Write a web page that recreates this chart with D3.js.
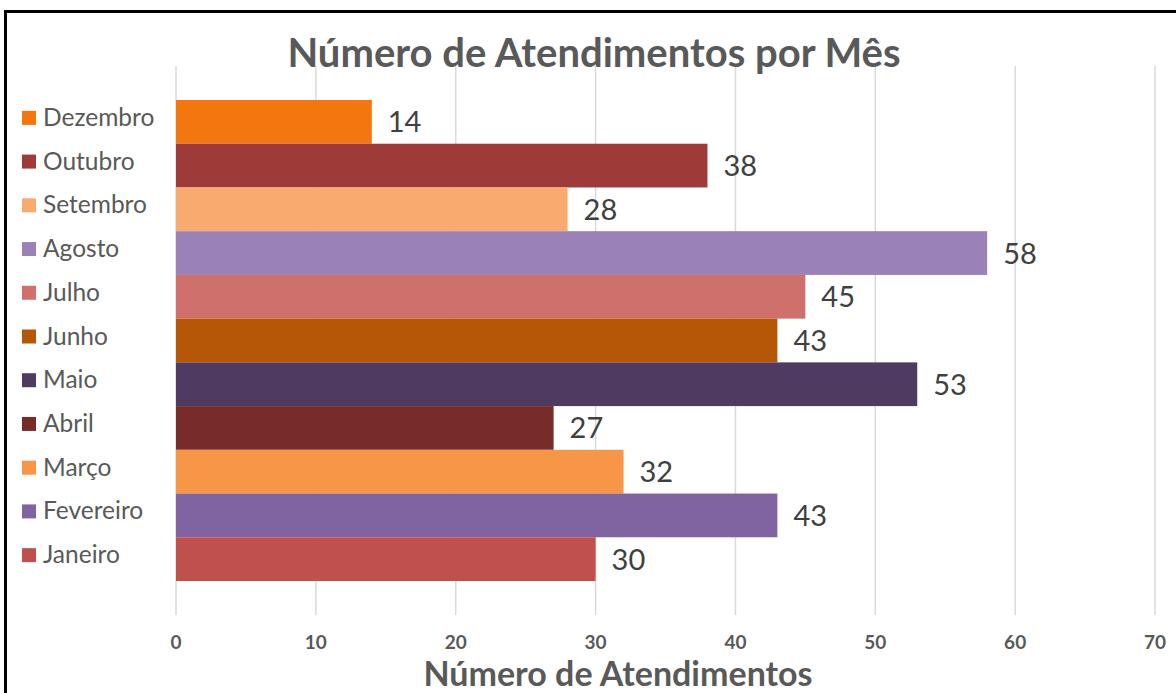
<!DOCTYPE html>
<html>
<head>
<meta charset="utf-8">
<script src="https://cdnjs.cloudflare.com/ajax/libs/d3/7.8.5/d3.min.js"></script>
<style>
  body { margin: 0; background: #fff; }
  svg { display: block; }
  text { font-family: Lato, "Open Sans", sans-serif; }
</style>
</head>
<body>
<div class="container"></div>
<script>
  var width = 1176,
    height = 693;

  // meses de cima para baixo, como no gráfico
  var months = ["Dezembro", "Outubro", "Setembro", "Agosto", "Julho", "Junho",
    "Maio", "Abril", "Março", "Fevereiro", "Janeiro"];
  var values = [14, 38, 28, 58, 45, 43, 53, 27, 32, 43, 30];
  var colors = ["#F4760E", "#9E3A38", "#F9AB6F", "#9A82B7", "#CF706D", "#B65708",
    "#4F3B62", "#772C2A", "#F79646", "#8064A2", "#C0504D"];
  var ticks = [0, 10, 20, 30, 40, 50, 60, 70];

  var data = months.map(function(m, i) {
    return { month: m, value: values[i], color: colors[i] };
  });

  var x = d3.scaleLinear()
    .domain([0, 70])
    .range([176, 1155]);

  var y = d3.scaleBand()
    .domain(months)
    .range([100, 581])
    .padding(0);

  var svg = d3.select(".container").append("svg")
    .attr("width", width)
    .attr("height", height);

  // moldura
  svg.append("rect")
    .attr("x", 5.5)
    .attr("y", 11.5)
    .attr("width", 1200)
    .attr("height", 720)
    .attr("fill", "none")
    .attr("stroke", "#000")
    .attr("stroke-width", 3);

  // linhas de grade
  svg.append("g")
    .selectAll("line")
    .data(ticks)
    .enter().append("line")
    .attr("x1", function(d) { return x(d); })
    .attr("x2", function(d) { return x(d); })
    .attr("y1", 66)
    .attr("y2", 615)
    .attr("stroke", "#d9d9d9")
    .attr("stroke-width", 1.5);

  // rótulos do eixo
  svg.append("g")
    .selectAll("text")
    .data(ticks)
    .enter().append("text")
    .attr("x", function(d) { return x(d); })
    .attr("y", 649)
    .attr("text-anchor", "middle")
    .attr("font-size", 19)
    .attr("font-weight", "bold")
    .attr("fill", "#595959")
    .text(function(d) { return d; });

  // barras
  svg.append("g")
    .selectAll("rect")
    .data(data)
    .enter().append("rect")
    .attr("x", x(0))
    .attr("y", function(d) { return y(d.month); })
    .attr("width", function(d) { return x(d.value) - x(0); })
    .attr("height", y.bandwidth())
    .attr("fill", function(d) { return d.color; });

  // valores
  svg.append("g")
    .selectAll("text")
    .data(data)
    .enter().append("text")
    .attr("x", function(d) { return x(d.value) + 16; })
    .attr("y", function(d) { return y(d.month) + y.bandwidth() / 2 + 10.5; })
    .attr("font-size", 29)
    .attr("fill", "#404040")
    .text(function(d) { return d.value; });

  // legenda
  var legend = svg.append("g")
    .selectAll("g")
    .data(data)
    .enter().append("g")
    .attr("transform", function(d) {
      return "translate(22," + (y(d.month) + y.bandwidth() / 2 - 4) + ")";
    });

  legend.append("rect")
    .attr("x", 0)
    .attr("y", -7)
    .attr("width", 14)
    .attr("height", 14)
    .attr("fill", function(d) { return d.color; });

  legend.append("text")
    .attr("x", 21)
    .attr("y", 8)
    .attr("font-size", 24.5)
    .attr("fill", "#595959")
    .text(function(d) { return d.month; });

  // títulos
  svg.append("text")
    .attr("x", 594)
    .attr("y", 67)
    .attr("text-anchor", "middle")
    .attr("font-size", 40)
    .attr("font-weight", "bold")
    .attr("fill", "#595959")
    .text("Número de Atendimentos por Mês");

  svg.append("text")
    .attr("x", 618)
    .attr("y", 686)
    .attr("text-anchor", "middle")
    .attr("font-size", 34)
    .attr("font-weight", "bold")
    .attr("fill", "#595959")
    .text("Número de Atendimentos");
</script>
</body>
</html>
